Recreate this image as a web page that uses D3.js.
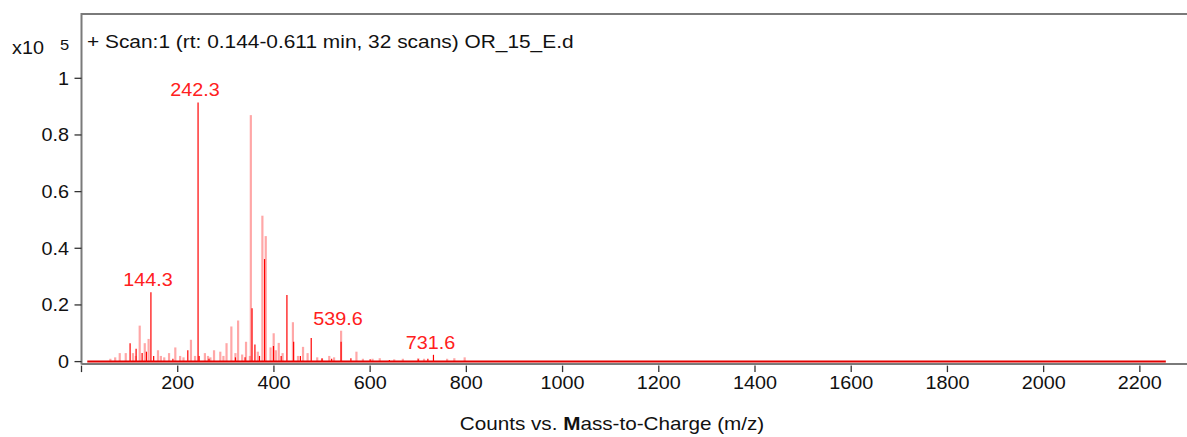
<!DOCTYPE html>
<html><head><meta charset="utf-8">
<script src="https://cdn.jsdelivr.net/npm/d3@7"></script>
<style>
html,body{margin:0;padding:0;background:#fff;}
text{font-family:"Liberation Sans",Arial,sans-serif;}
</style></head>
<body><svg id="c" width="1187" height="437"></svg>
<script>
// ---- data ----
const xTicks = [0, 200, 400, 600, 800, 1000, 1200, 1400, 1600, 1800, 2000, 2200];
const yTicks = [0, 0.2, 0.4, 0.6, 0.8, 1];
const mzRange = [12, 2254];
const lightMz  = [60, 70, 79.5, 92, 107, 113, 121, 131.5, 139.5, 159, 165, 172, 182, 195, 205, 212, 227.5, 236, 256.5, 263, 268, 275.5, 288.5, 295, 301.5, 311.5, 320, 325.5, 334, 342, 350, 352, 366.5, 376, 383, 393, 399.5, 404, 410, 418, 439.5, 450, 460.5, 470, 490, 500, 515, 525, 539.6, 571.5, 585, 605, 620, 650, 668, 700, 712, 760, 775, 796.5];
const lightInt = [0.01, 0.015, 0.03, 0.03, 0.03, 0.02, 0.127, 0.065, 0.08, 0.04, 0.02, 0.015, 0.03, 0.05, 0.02, 0.015, 0.077, 0.02, 0.03, 0.02, 0.015, 0.04, 0.035, 0.02, 0.065, 0.124, 0.03, 0.145, 0.025, 0.07, 0.02, 0.87, 0.035, 0.515, 0.443, 0.05, 0.1, 0.04, 0.066, 0.03, 0.139, 0.02, 0.052, 0.03, 0.015, 0.01, 0.02, 0.015, 0.109, 0.035, 0.01, 0.01, 0.012, 0.008, 0.01, 0.012, 0.01, 0.01, 0.012, 0.015];
const solidMz  = [101, 113.5, 126, 135, 144.3, 150, 190, 221, 242.3, 244.5, 265, 320, 340, 354.5, 360.5, 370, 380.5, 399, 415, 427, 441, 455, 477.5, 500, 520, 539.6, 560, 600, 640, 700, 720, 731.6];
const solidInt = [0.065, 0.045, 0.03, 0.035, 0.245, 0.02, 0.01, 0.04, 0.915, 0.02, 0.01, 0.015, 0.015, 0.188, 0.06, 0.02, 0.362, 0.055, 0.02, 0.235, 0.07, 0.02, 0.083, 0.012, 0.01, 0.07, 0.012, 0.008, 0.006, 0.008, 0.01, 0.024];
const labelMz  = [144.3, 242.3, 539.6, 731.6];
const labelInt = [0.245, 0.915, 0.109, 0.024];

// ---- layout ----
const svg = d3.select("#c");
const L = 81.5, R = 1187, T = 14, Y0 = 361.6;
const x = d3.scaleLinear().domain([0, 2298]).range([L, R]);
const y = d3.scaleLinear().domain([0, 1]).range([Y0, 78.3]);
const FS = 18, SX = 1.1;
const gray = "#7a7a7a";

function txt(g, px, py, s, anchor, color, size, sx) {
  const t = g.append("text")
    .attr("transform", `translate(${px},${py}) scale(${sx || SX},1)`)
    .attr("text-anchor", anchor || "start")
    .attr("fill", color || "#111")
    .attr("font-size", size || FS)
    .text(s);
  return t;
}

// frame
svg.append("line").attr("x1", L).attr("x2", R).attr("y1", T).attr("y2", T)
  .attr("stroke", gray).attr("stroke-width", 2);
svg.append("line").attr("x1", L).attr("x2", L).attr("y1", T - 1).attr("y2", Y0 + 3)
  .attr("stroke", gray).attr("stroke-width", 2);

// y axis ticks & labels
const ya = svg.append("g");
yTicks.forEach(v => {
  ya.append("line").attr("x1", L - 7).attr("x2", L).attr("y1", y(v)).attr("y2", y(v))
    .attr("stroke", "#333").attr("stroke-width", 1.3);
  txt(ya, 69, y(v) + 6.5, d3.format("~g")(v), "end");
});
txt(svg, 12, 54, "x10");
txt(svg, 60, 50, "5", "start", "#111", 15);

// title
txt(svg, 87, 47.5, "+ Scan:1 (rt: 0.144-0.611 min, 32 scans) OR_15_E.d", "start", "#111", 18.5, 1.13);

// spectrum: light sticks
svg.append("g").selectAll("line").data(d3.zip(lightMz, lightInt)).join("line")
  .attr("x1", d => x(d[0])).attr("x2", d => x(d[0]))
  .attr("y1", Y0).attr("y2", d => y(d[1]))
  .attr("stroke", "rgba(255,60,60,0.45)").attr("stroke-width", 2.2);
// baseline
svg.append("line").attr("x1", x(mzRange[0])).attr("x2", x(mzRange[1]))
  .attr("y1", Y0).attr("y2", Y0).attr("stroke", "#e00000").attr("stroke-width", 2);
// solid sticks
svg.append("g").selectAll("line").data(d3.zip(solidMz, solidInt)).join("line")
  .attr("x1", d => x(d[0])).attr("x2", d => x(d[0]))
  .attr("y1", Y0).attr("y2", d => y(d[1]))
  .attr("stroke", "#ff0000").attr("stroke-width", 1.2);

// x axis
svg.append("line").attr("x1", L).attr("x2", R).attr("y1", Y0 + 2.4).attr("y2", Y0 + 2.4)
  .attr("stroke", gray).attr("stroke-width", 2);
const xa = svg.append("g");
xTicks.forEach(v => {
  xa.append("line").attr("x1", x(v)).attr("x2", x(v)).attr("y1", Y0 + 4).attr("y2", Y0 + 10.5)
    .attr("stroke", "#333").attr("stroke-width", 1.3);
  if (v > 0) txt(xa, x(v), 389, String(v), "middle");
});
const xl = txt(svg, 612, 430, "", "middle", "#111", 18, 1.15);
xl.append("tspan").text("Counts vs. ");
xl.append("tspan").attr("font-weight", "bold").text("M");
xl.append("tspan").text("ass-to-Charge (m/z)");

// peak labels
labelMz.forEach((m, i) => {
  txt(svg, x(m) - 3, y(labelInt[i]) - 6, String(m), "middle", "#ff2020");
});
</script></body></html>
